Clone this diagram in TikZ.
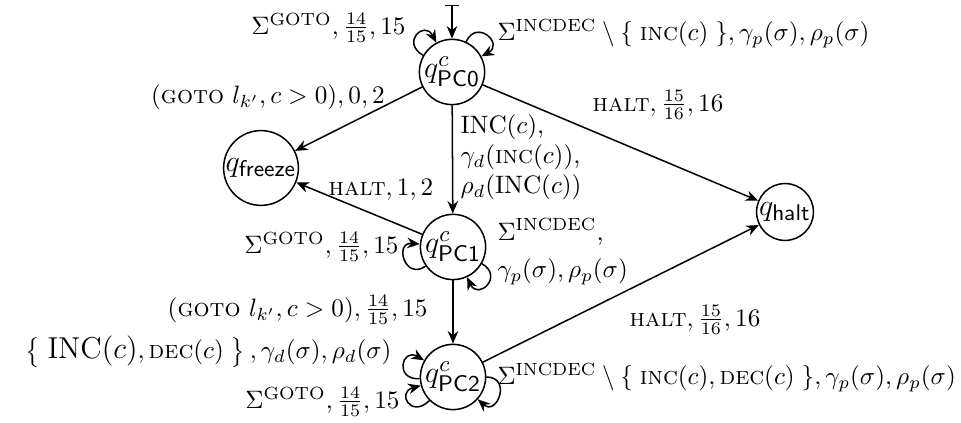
\documentclass[tikz,border=0pt]{standalone}
\usetikzlibrary{arrows.meta}
\begin{document}
\begin{tikzpicture}[x=0.397pt,y=0.397pt,
  state/.style={draw, circle, line width=0.6pt, inner sep=0.3pt, font=\fontsize{12.4}{15}\selectfont},
  tip/.style={-{Stealth[length=5pt,width=4.2pt]}},
  edgeline/.style={line width=0.6pt, tip},
  lbl/.style={inner sep=0pt, font=\normalsize},
  selfloop/.style={edgeline, distance=3.6mm}
]
\useasboundingbox (0,0) rectangle (961,423);
\node[state] (p0) at (452,351) {$q^c_{\mathsf{PC0}}$};
\node[state] (fr) at (261,255) {$q_{\mathsf{freeze}}$};
\node[state] (p1) at (453,176) {$q^c_{\mathsf{PC1}}$};
\node[state] (ha) at (785,211) {$q_{\mathsf{halt}}$};
\node[state] (p2) at (453,46) {$q^c_{\mathsf{PC2}}$};
\coordinate (st) at (452,418);

\draw[line width=0.6pt, {Bar[width=5.5pt]}-{Stealth[length=5pt,width=4.2pt]}] (st) -- (p0);
\draw[edgeline] (p0) -- (fr);
\draw[edgeline] (p0) -- (ha);
\draw[edgeline] (p0) -- (p1);
\draw[edgeline] (p1) -- (fr);
\draw[edgeline] (p1) -- (p2);
\draw[edgeline] (p2) -- (ha);
\draw[selfloop] (p0) to[out=150,in=118] (p0);
\draw[selfloop] (p0) to[out=65,in=28] (p0);
\draw[selfloop] (p1) to[out=215,in=175] (p1);
\draw[selfloop] (p1) to[out=-30,in=-65] (p1);
\draw[selfloop] (p2) to[out=183,in=150] (p2);
\draw[selfloop] (p2) to[out=225,in=195] (p2);
\draw[selfloop] (p2) to[out=0,in=-42] (p2);

\node[lbl, anchor=east] (l1) at (406,395) {$\Sigma^{\mathrm{GOTO}}, \frac{14}{15}, 15$};
\node[lbl, anchor=west] (l2) at (497,389) {$\Sigma^{\mathrm{INCDEC}} \setminus \{\;\textsc{inc}(c)\;\}, \gamma_p(\sigma), \rho_p(\sigma)$};
\node[lbl] (l3) at (268,326) {$(\textsc{goto}\ l_{k'}, c > 0), 0, 2$};
\node[lbl] (l4) at (658,318) {$\textsc{halt}, \frac{15}{16}, 16$};
\node[lbl, anchor=west, align=left] (l5) at (460,266) {$\mathrm{INC}(c)$,\\$\gamma_d(\textsc{inc}(c))$,\\$\rho_d(\mathrm{INC}(c))$};
\node[lbl] (l6) at (381,233) {$\textsc{halt}, 1, 2$};
\node[lbl, anchor=east] (l7) at (399,176) {$\Sigma^{\mathrm{GOTO}}, \frac{14}{15}, 15$};
\node[lbl, anchor=west, align=left] (l8) at (497,171) {$\Sigma^{\mathrm{INCDEC}}$,\\[3pt]$\gamma_p(\sigma), \rho_p(\sigma)$};
\node[lbl, anchor=east] (l9) at (428,113) {$(\textsc{goto}\ l_{k'}, c > 0), \frac{14}{15}, 15$};
\node[lbl] (l10) at (695,103) {$\textsc{halt}, \frac{15}{16}, 16$};
\node[lbl, anchor=east] (l11) at (392,71) {$\left\{\;\mbox{\large$\mathrm{INC}(c)$}, \textsc{dec}(c)\;\right\}, \gamma_d(\sigma), \rho_d(\sigma)$};
\node[lbl, anchor=east] (l12) at (400,21) {$\Sigma^{\mathrm{GOTO}}, \frac{14}{15}, 15$};
\node[lbl, anchor=west] (l13) at (497,45) {$\Sigma^{\mathrm{INCDEC}} \setminus \{\;\textsc{inc}(c), \textsc{dec}(c)\;\}, \gamma_p(\sigma), \rho_p(\sigma)$};
\end{tikzpicture}
\end{document}
